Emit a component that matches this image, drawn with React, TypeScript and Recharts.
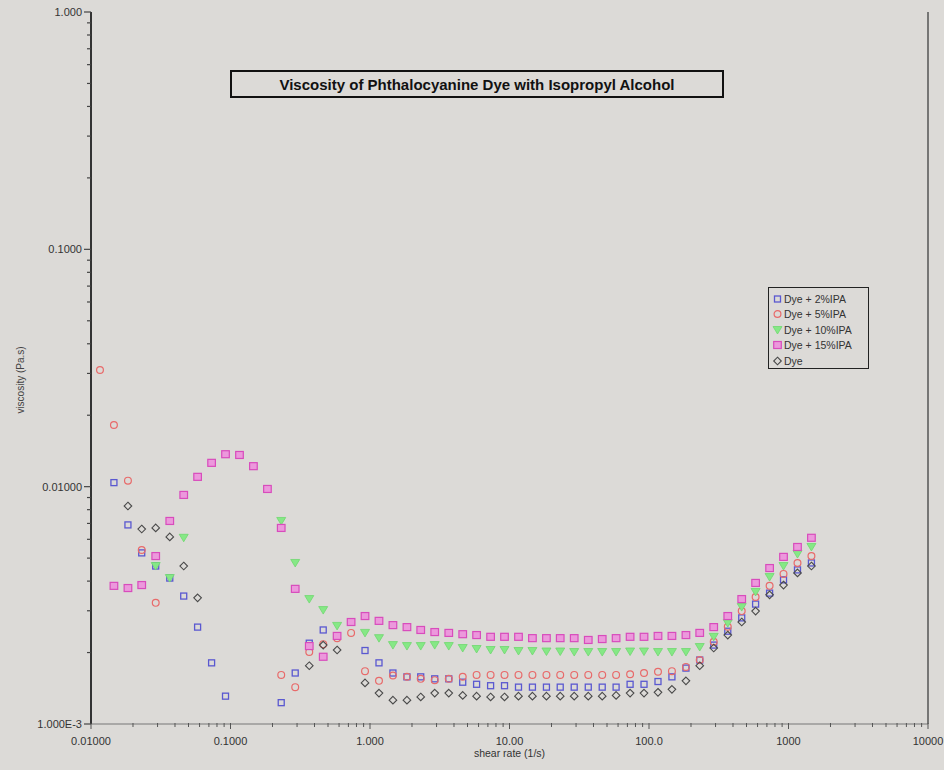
import React from 'react';
import { ScatterChart, Scatter, XAxis, YAxis, Legend, ReferenceLine } from 'recharts';

// shear rate (1/s), 10 points per decade
const shearRate = [
  0.0116, 0.0146, 0.0184, 0.0231, 0.0291, 0.0367, 0.0462, 0.0581, 0.0732, 0.0921,
  0.116, 0.146, 0.184, 0.231, 0.291, 0.367, 0.462, 0.581, 0.732, 0.921,
  1.16, 1.46, 1.84, 2.31, 2.91, 3.67, 4.62, 5.81, 7.32, 9.21,
  11.6, 14.6, 18.4, 23.1, 29.1, 36.7, 46.2, 58.1, 73.2, 92.1,
  116, 146, 184, 231, 291, 367, 462, 581, 732, 921,
  1160, 1460,
];

// viscosity (Pa.s); null = no point shown
const ipa2 = [
  null, 0.0104, 0.0069, 0.00526, 0.00463, 0.00412, 0.00346, 0.00256, 0.00181, 0.00131,
  null, null, null, 0.00123, 0.00164, 0.00219, 0.00249, null, null, 0.00204,
  0.00181, 0.00164, 0.00158, 0.00158, 0.00155, 0.00155, 0.0015, 0.00147, 0.00145, 0.00145,
  0.00143, 0.00143, 0.00143, 0.00143, 0.00143, 0.00143, 0.00143, 0.00143, 0.00147, 0.00147,
  0.00151, 0.00158, 0.00172, 0.00186, 0.00215, 0.00246, 0.0028, 0.0032, 0.00356, 0.00405,
  0.00446, 0.00477,
];
const ipa5 = [
  0.031, 0.0182, 0.0106, 0.00541, 0.00324, null, null, null, null, null,
  null, null, null, 0.00161, 0.00143, 0.00201, 0.00217, 0.0023, 0.00242, 0.00167,
  0.00152, 0.0016, 0.00158, 0.00155, 0.00153, 0.00155, 0.00158, 0.00161, 0.00161, 0.00161,
  0.00161, 0.00161, 0.00161, 0.00161, 0.00161, 0.00161, 0.00161, 0.00161, 0.00162, 0.00164,
  0.00166, 0.00167, 0.00174, 0.00186, 0.00222, 0.00257, 0.00299, 0.00343, 0.00382, 0.00429,
  0.00477, 0.0051,
];
const ipa10 = [
  null, null, null, null, 0.00463, 0.00412, 0.00609, null, null, null,
  null, null, null, 0.00717, 0.00477, 0.00336, 0.00302, 0.00259, null, 0.00242,
  0.0023, 0.00215, 0.00213, 0.00213, 0.00215, 0.00213, 0.00209, 0.00207, 0.00205, 0.00205,
  0.00203, 0.00203, 0.00202, 0.00202, 0.00201, 0.00201, 0.00201, 0.00201, 0.00202, 0.00202,
  0.00201, 0.00201, 0.00201, 0.00211, 0.00233, 0.00266, 0.00311, 0.0036, 0.00416, 0.00463,
  0.0052, 0.00557,
];
const ipa15 = [
  null, 0.00382, 0.00374, 0.00385, 0.0051, 0.00717, 0.00923, 0.011, 0.0126, 0.0137,
  0.0136, 0.0122, 0.00978, 0.0067, 0.00371, 0.00213, 0.00192, 0.00235, 0.00269, 0.00285,
  0.00272, 0.00261, 0.00256, 0.00249, 0.00244, 0.00242, 0.00239, 0.00237, 0.00233, 0.00233,
  0.00233, 0.0023, 0.0023, 0.0023, 0.0023, 0.00226, 0.00228, 0.0023, 0.00233, 0.00233,
  0.00235, 0.00235, 0.00237, 0.00242, 0.00256, 0.00285, 0.00336, 0.00393, 0.00454, 0.00506,
  0.00557, 0.00609,
];
const dye = [
  null, null, 0.00829, 0.00663, 0.0067, 0.00614, 0.00463, 0.0034, null, null,
  null, null, null, null, null, 0.00176, 0.00215, 0.00205, null, 0.00149,
  0.00135, 0.00126, 0.00126, 0.0013, 0.00135, 0.00135, 0.00132, 0.00131, 0.0013, 0.0013,
  0.00131, 0.00131, 0.00131, 0.00131, 0.00131, 0.00131, 0.00131, 0.00132, 0.00135, 0.00135,
  0.00136, 0.0014, 0.00152, 0.00176, 0.00209, 0.00237, 0.00269, 0.00299, 0.0035, 0.00385,
  0.00433, 0.00463,
];

const seriesNames = ['Dye + 2%IPA', 'Dye + 5%IPA', 'Dye + 10%IPA', 'Dye + 15%IPA', 'Dye'];

const xMajor = [0.01, 0.1, 1, 10, 100, 1000, 10000];
const xMajorLabels = ['0.01000', '0.1000', '1.000', '10.00', '100.0', '1000', '10000'];
const yMajor = [0.001, 0.01, 0.1, 1];
const yMajorLabels = ['1.000E-3', '0.01000', '0.1000', '1.000'];

const withMinors = (majors: number[]) => {
  const out: number[] = [];
  majors.forEach((d, i) => {
    out.push(d);
    if (i < majors.length - 1) for (let m = 2; m <= 9; m++) out.push(d * m);
  });
  return out;
};
const xTicks = withMinors(xMajor);
const yTicks = withMinors(yMajor);

const toPoints = (vals: (number | null)[]) =>
  shearRate.map((x, i) => ({ x, y: vals[i] })).filter((p) => p.y != null);

const FONT = '"Liberation Sans", Arial, sans-serif';
const BG = '#dcdad7';

type Kind = 'square' | 'circle' | 'triangle' | 'filledSquare' | 'diamond';

const Marker = ({ kind, cx, cy }: { kind: Kind; cx: number; cy: number }) => {
  switch (kind) {
    case 'square':
      return <rect x={cx - 3} y={cy - 3} width={6} height={6} fill="none" stroke="#5a58d0" strokeWidth={1.3} />;
    case 'circle':
      return <circle cx={cx} cy={cy} r={3.4} fill="none" stroke="#e86a6a" strokeWidth={1.2} />;
    case 'triangle':
      return <path d={`M${cx - 4.5},${cy - 3.5}L${cx + 4.5},${cy - 3.5}L${cx},${cy + 4}Z`} fill="#86e886" stroke="#6fd86f" strokeWidth={0.8} />;
    case 'filledSquare':
      return <rect x={cx - 3.8} y={cy - 3.5} width={7.6} height={7} fill="#ec98dc" stroke="#d84cbc" strokeWidth={1.2} />;
    case 'diamond':
      return <path d={`M${cx},${cy - 3.8}L${cx + 3.8},${cy}L${cx},${cy + 3.8}L${cx - 3.8},${cy}Z`} fill="none" stroke="#4a4a4a" strokeWidth={1.1} />;
  }
};

const kinds: Kind[] = ['square', 'circle', 'triangle', 'filledSquare', 'diamond'];
const seriesValues = [ipa2, ipa5, ipa10, ipa15, dye];

const isMajor = (v: number) => Math.abs(Math.log10(v) - Math.round(Math.log10(v))) < 1e-6;
const majorIndex = (list: number[], v: number) => list.findIndex((m) => Math.abs(m - v) / m < 1e-6);

const XTick = (props: any) => {
  const { x, y, payload } = props;
  const v = payload.value;
  const major = isMajor(v);
  const idx = majorIndex(xMajor, v);
  return (
    <g>
      <line x1={x} x2={x} y1={y - 1} y2={y + (major ? 5 : 3)} stroke="#555" strokeWidth={1} />
      {major && idx >= 0 && (
        <text x={x} y={y + 21} textAnchor="middle" fontSize={11} fill="#333" fontFamily={FONT}>
          {xMajorLabels[idx]}
        </text>
      )}
    </g>
  );
};

const YTick = (props: any) => {
  const { x, y, payload } = props;
  const v = payload.value;
  const major = isMajor(v);
  const idx = majorIndex(yMajor, v);
  return (
    <g>
      <line x1={x - (major ? 7 : 4)} x2={x} y1={y} y2={y} stroke="#444" strokeWidth={1.2} />
      {major && idx >= 0 && (
        <text x={x - 9} y={y + 4} textAnchor="end" fontSize={11} fill="#333" fontFamily={FONT}>
          {yMajorLabels[idx]}
        </text>
      )}
    </g>
  );
};

const YLabel = () => (
  <text
    x={20}
    y={380}
    transform="rotate(-90, 20, 380)"
    textAnchor="middle"
    dominantBaseline="central"
    fontSize={10}
    fill="#444"
    fontFamily={FONT}
  >
    viscosity (Pa.s)
  </text>
);

const LegendBox = () => (
  <div
    style={{
      width: 101,
      height: 82,
      border: '1.5px solid #222',
      background: BG,
      fontFamily: FONT,
      fontSize: 10.5,
      color: '#333',
      padding: '3px 0 0 0',
      boxSizing: 'border-box',
    }}
  >
    {seriesNames.map((name, i) => (
      <div key={name} style={{ display: 'flex', alignItems: 'center', height: 15.5, whiteSpace: 'nowrap' }}>
        <svg width={13} height={12} style={{ marginLeft: 2 }}>
          <Marker kind={kinds[i]} cx={6.5} cy={6} />
        </svg>
        <span>{name}</span>
      </div>
    ))}
  </div>
);

export default function App() {
  return (
    <div style={{ position: 'absolute', left: 0, top: 0, width: 944, height: 770, background: BG, fontFamily: FONT }}>
      <ScatterChart width={944} height={770} margin={{ top: 12, right: 16, bottom: 0, left: 0 }}>
        <XAxis
          dataKey="x"
          type="number"
          scale="log"
          domain={[0.01, 10000]}
          allowDataOverflow
          ticks={xTicks}
          interval={0}
          tickSize={0}
          tickMargin={0}
          tickLine={false}
          tick={<XTick />}
          height={46}
          axisLine={{ stroke: '#777', strokeWidth: 1 }}
          label={{ value: 'shear rate (1/s)', position: 'insideBottom', offset: 13, fontSize: 10.5, fill: '#333' }}
        />
        <YAxis
          dataKey="y"
          type="number"
          scale="log"
          domain={[0.001, 1]}
          allowDataOverflow
          ticks={yTicks}
          interval={0}
          tickSize={0}
          tickMargin={0}
          tickLine={false}
          tick={<YTick />}
          width={91}
          axisLine={{ stroke: '#333', strokeWidth: 2 }}
          label={{ content: () => <YLabel /> }}
        />
        <ReferenceLine x={10000} stroke="#555" strokeWidth={1.5} ifOverflow="extendDomain" />
        {seriesNames.map((name, i) => (
          <Scatter
            key={name}
            name={name}
            data={toPoints(seriesValues[i])}
            isAnimationActive={false}
            shape={(p: any) => <Marker kind={kinds[i]} cx={p.cx} cy={p.cy} />}
          />
        ))}
        <Legend
          layout="horizontal"
          verticalAlign="middle"
          align="center"
          content={() => <LegendBox />}
          wrapperStyle={{ left: 768, top: 287, width: 103, height: 83 }}
        />
      </ScatterChart>
      <div
        style={{
          position: 'absolute',
          left: 230,
          top: 70,
          width: 494,
          height: 28,
          border: '2px solid #111',
          boxSizing: 'border-box',
          display: 'flex',
          alignItems: 'center',
          justifyContent: 'center',
          fontWeight: 'bold',
          fontSize: 15,
          color: '#111',
          whiteSpace: 'nowrap',
        }}
      >
        Viscosity of Phthalocyanine Dye with Isopropyl Alcohol
      </div>
    </div>
  );
}
